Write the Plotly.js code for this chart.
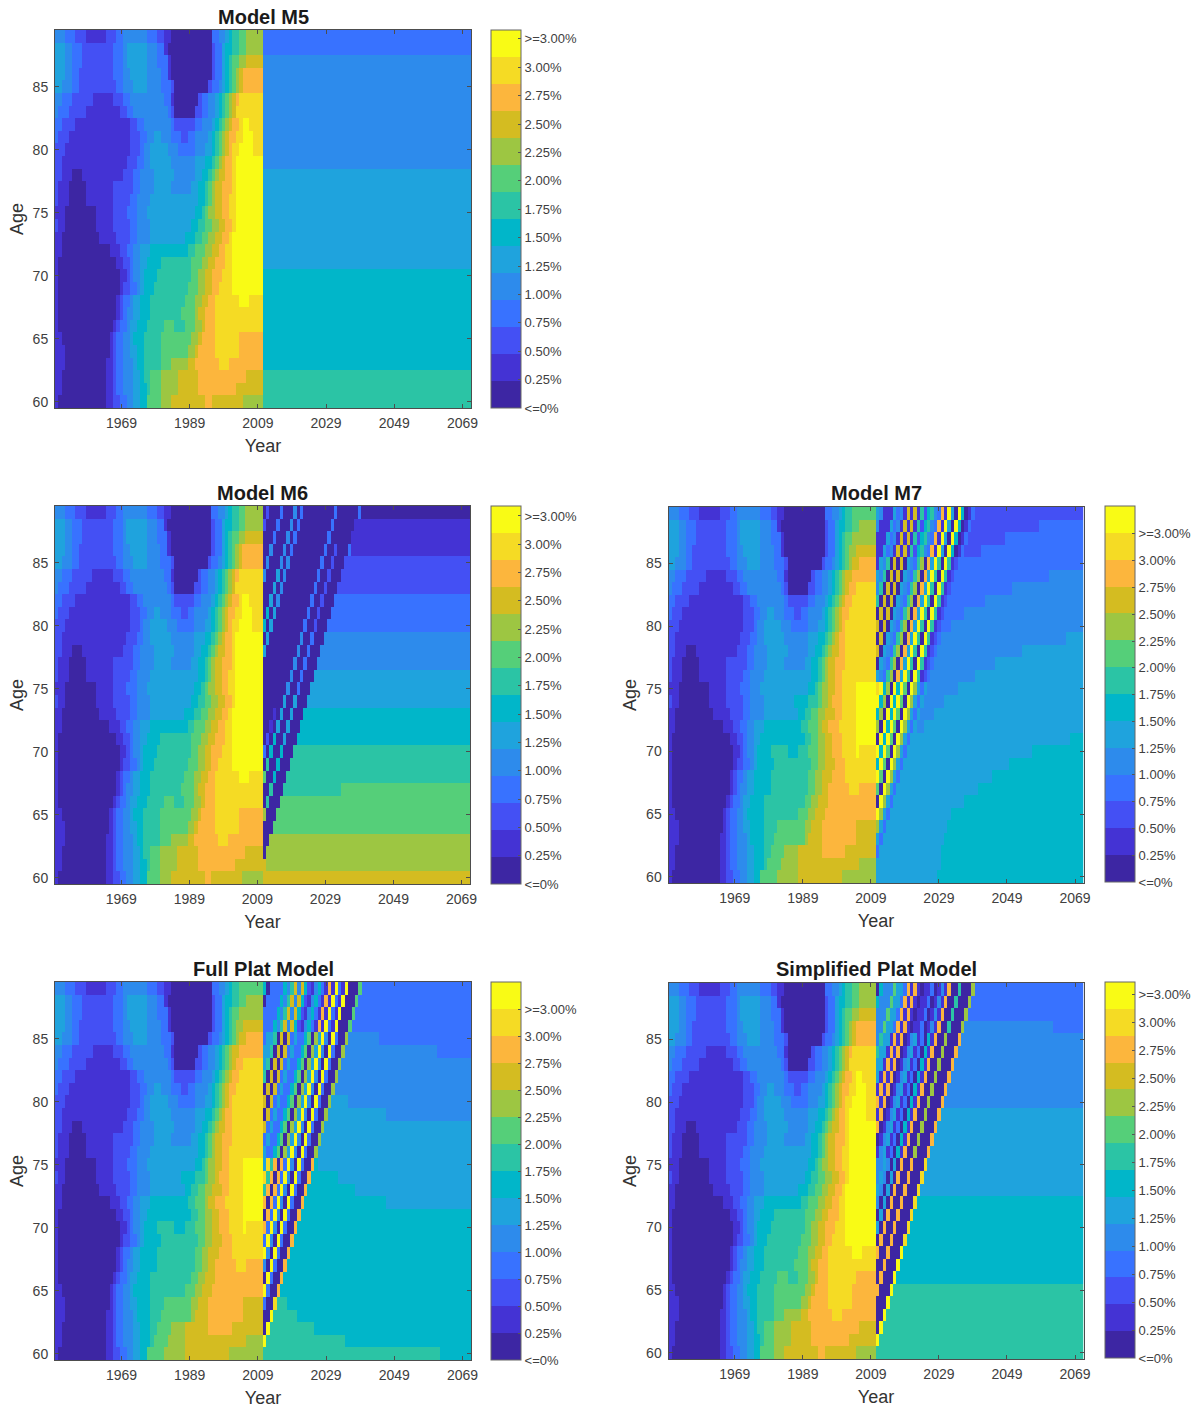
<!DOCTYPE html>
<html><head><meta charset="utf-8">
<script src="https://cdn.plot.ly/plotly-3.0.1.min.js"></script>
<style>html,body{margin:0;padding:0;background:#fff}</style></head>
<body><div id="chart" style="width:1198px;height:1408px"></div>
<script>
const palette = ["#3d26a3","#4433d4","#4450f4","#3872ff","#2d8bec","#1fa3dd","#01b6c9","#2bc4a5","#55cf79","#9dc642","#d4bc21","#fcb63d","#f5db24","#f9fb15"];
const levelLabels = ["<=0%","0.25%","0.50%","0.75%","1.00%","1.25%","1.50%","1.75%","2.00%","2.25%","2.50%","2.75%","3.00%",">=3.00%"];
const xTicks = [1969,1989,2009,2029,2049,2069];
const yTicks = [60,65,70,75,80,85];

// Observed history, ages 89 down to 60. Tokens are level:endColumn (column 0 = 1950).
const histBase = [
"4:3 3:6 2:9 1:15 2:18 3:20 4:27 3:30 2:32 1:34 0:46 3:48 4:50 5:51 6:52 7:54 8:56 9:61",
"5:3 4:5 3:8 2:17 3:20 4:21 5:27 4:30 3:32 1:33 0:46 2:47 3:49 5:50 6:52 7:54 8:56 9:61",
"5:3 4:5 3:8 2:17 3:20 4:21 5:27 4:30 3:33 1:34 0:46 2:47 3:49 5:50 6:51 7:52 8:54 9:56 10:61",
"5:3 4:5 3:7 2:17 3:20 4:22 5:27 4:31 3:33 1:34 0:46 2:47 3:49 5:50 6:51 7:52 8:53 9:54 10:55 11:61",
"5:2 4:5 3:7 2:18 3:20 4:23 5:27 4:31 3:34 2:35 0:45 2:46 3:48 4:49 5:50 6:51 7:52 8:53 9:54 10:55 11:61",
"4:2 3:5 2:11 1:17 2:20 3:22 4:32 3:34 1:35 0:42 2:43 3:45 4:47 5:48 6:49 7:50 8:51 9:52 10:53 11:54 12:61",
"4:1 3:4 2:9 1:19 2:21 3:23 4:33 3:34 2:35 0:41 2:43 3:45 4:47 5:48 6:49 7:50 8:51 9:52 10:53 12:61",
"3:2 2:6 1:22 2:24 3:26 4:34 3:35 2:41 3:43 4:46 5:47 6:48 7:49 8:50 9:51 10:52 11:54 12:55 13:57 12:61",
"3:1 2:4 1:22 2:25 3:27 4:29 5:31 4:34 3:37 2:39 3:41 4:45 5:46 6:47 7:48 8:49 9:50 10:51 11:53 12:55 13:58 12:61",
"2:3 1:22 2:25 3:26 4:28 5:33 4:36 3:41 4:44 5:46 6:47 7:48 8:49 9:50 10:51 11:52 12:54 13:58 12:61",
"2:2 1:21 2:24 3:26 4:28 5:34 4:41 5:44 6:46 7:47 8:48 9:49 10:50 11:52 12:53 13:61",
"2:2 1:5 0:8 1:20 2:23 3:25 4:29 5:35 4:41 5:43 6:45 7:46 8:47 9:48 10:50 11:52 12:53 13:61",
"2:1 1:4 0:9 1:17 2:23 3:25 4:29 5:34 4:40 5:42 6:44 7:45 8:46 9:47 10:49 11:52 12:53 13:61",
"2:1 1:4 0:9 1:17 2:22 3:24 4:28 5:42 6:44 7:45 8:46 9:47 10:49 11:51 12:53 13:61",
"1:3 0:12 1:17 2:21 3:24 4:27 5:41 6:43 7:44 8:45 9:47 10:49 11:51 12:53 13:61",
"2:1 1:3 0:12 1:17 2:22 3:24 4:28 5:40 6:42 7:44 8:46 9:48 10:50 11:52 12:53 13:61",
"1:2 0:13 1:18 2:22 3:24 4:28 5:38 6:41 7:43 8:45 9:47 10:49 11:51 12:52 13:61",
"1:2 0:16 1:19 2:21 3:23 4:25 5:28 6:39 7:41 8:44 9:46 10:48 11:50 12:52 13:61",
"1:1 0:18 1:20 2:22 3:23 4:25 5:27 6:31 7:40 8:43 9:45 10:47 11:50 12:52 13:61",
"1:1 0:19 1:21 2:22 3:23 4:25 5:26 6:30 7:40 8:42 9:44 10:46 11:49 12:52 13:61",
"1:1 0:19 1:20 2:22 3:24 4:25 5:26 6:29 7:39 8:42 9:44 10:46 11:48 12:52 13:61",
"1:1 0:18 1:19 2:20 3:22 4:23 5:25 6:28 7:38 8:41 9:43 10:45 11:47 12:54 13:57 12:61",
"1:1 0:18 1:19 2:20 3:21 4:23 5:25 6:28 7:37 8:41 9:42 10:44 11:47 12:61",
"1:1 0:17 1:18 2:19 3:21 4:22 5:24 6:27 7:32 8:35 7:38 8:41 9:43 10:44 11:47 12:61",
"1:2 0:16 1:17 2:18 3:20 4:22 5:23 6:26 7:31 8:40 9:42 10:43 11:47 12:54 11:61",
"1:3 0:16 1:17 2:18 3:20 4:22 5:24 6:26 7:31 8:39 9:41 10:42 11:47 12:54 11:61",
"1:3 0:15 1:17 2:18 3:20 4:23 5:24 6:26 7:31 8:34 9:39 10:41 11:48 12:51 11:61",
"1:2 0:15 1:17 2:18 3:20 4:23 5:25 6:26 7:28 8:31 9:36 10:42 11:56 10:61",
"1:2 0:15 1:17 2:18 3:20 4:23 5:25 6:27 7:28 8:31 9:36 10:42 11:53 10:61",
"1:1 0:15 1:17 2:19 3:21 4:23 5:25 6:27 8:31 9:34 10:44 11:46 10:55 9:61"];

// Right-hand ends of the history rows that differ in M7 and the Full Plat model. "start|level:end ..."
const histTailM7 = [
"50|5:51 6:52 7:54 8:61","50|6:52 7:54 8:56 9:61","50|6:51 7:52 8:54 9:61","50|6:51 7:52 8:53 9:55 10:61",
"50|6:51 7:52 8:53 9:54 10:56 11:61","47|5:48 6:49 7:50 8:51 9:52 10:54 11:61","47|5:48 6:49 7:50 8:51 9:52 10:53 11:55 12:61",
"47|6:48 7:49 8:50 9:51 10:52 11:54 12:61","53|12:61","52|12:61","52|12:61","53|12:61","53|12:61","53|12:61",
"53|12:55 13:61","37|6:41 7:44 8:45 9:47 10:48 11:51 12:55 13:61","38|6:40 7:42 8:44 9:46 10:49 11:51 12:55 13:61",
"28|6:39 7:41 8:44 9:45 10:47 11:50 12:55 13:61","27|6:40 7:42 8:44 9:46 10:48 11:51 12:55 13:61",
"31|7:35 6:38 7:41 8:44 9:46 10:48 11:51 12:55 13:56 12:61","29|6:31 7:42 8:44 9:46 10:49 11:52 12:61",
"28|6:30 7:41 8:43 9:45 10:48 11:52 12:61","28|6:30 7:41 8:43 9:45 10:47 11:53 12:56 11:61","27|6:28 7:40 8:42 9:44 10:47 11:61",
"26|6:28 7:38 8:41 9:43 10:46 11:61","26|6:28 7:32 8:40 9:42 10:45 11:55 10:61","26|6:28 7:31 8:40 9:41 10:45 11:55 10:61",
"26|6:28 7:30 8:34 9:38 10:45 11:52 10:61","26|6:28 7:29 8:33 9:38 10:56 9:61","25|6:27 8:32 9:38 10:51 9:61"];
const histTailSimp = ["","","","","","","","","","","58|12:61","","","","","","","","","","","","","55|11:61","","","","","",""];

// Projected background per age. [number of rows, tokens], ages 89 down to 60. Columns run 61..121.
const bgM5 = [[2,"3:122"],[9,"4:122"],[8,"5:122"],[8,"6:122"],[3,"7:122"]];
const bgM6 = [[1,"0:122"],[3,"1:122"],[3,"2:122"],[3,"3:122"],[3,"4:122"],[3,"5:122"],[3,"6:122"],[3,"7:122"],[1,"7:84 8:122"],[3,"8:122"],[3,"9:122"],[1,"10:122"]];
const bgM7 = [[1,"2:122"],[1,"2:109 3:122"],[1,"2:99 3:122"],[1,"2:92 3:122"],[1,"3:122"],[1,"3:112 4:122"],[1,"3:101 4:122"],[1,"3:93 4:122"],[1,"3:87 4:122"],[1,"3:83 4:122"],[1,"3:79 4:117 5:122"],[1,"3:77 4:104 5:122"],[1,"3:75 4:96 5:122"],[1,"3:73 4:90 5:122"],[1,"3:71 4:85 5:122"],[1,"3:70 4:81 5:122"],[1,"4:78 5:122"],[1,"4:75 5:122"],[1,"4:72 5:118 6:122"],[1,"4:69 5:107 6:122"],[1,"4:67 5:100 6:122"],[1,"5:95 6:122"],[1,"5:91 6:122"],[1,"5:87 6:122"],[1,"5:83 6:122"],[1,"5:82 6:122"],[1,"5:81 6:122"],[2,"5:80 6:122"],[1,"5:79 6:122"]];
const bgFull = [[4,"3:122"],[1,"4:95 3:122"],[1,"4:112 3:122"],[3,"4:122"],[1,"5:86 4:122"],[1,"5:97 4:122"],[3,"5:122"],[1,"6:77 5:122"],[1,"6:83 5:122"],[1,"6:88 5:122"],[1,"6:97 5:122"],[7,"6:122"],[1,"7:68 6:122"],[1,"7:71 6:122"],[1,"7:76 6:122"],[1,"7:85 6:122"],[1,"7:113 6:122"]];
const bgSimp = [[3,"3:122"],[1,"4:113 3:122"],[6,"4:122"],[7,"5:122"],[7,"6:122"],[6,"7:122"]];

// Level of each birth cohort 1922..1950 at high (86+), middle (76-85) and low (<=75) ages.
const m7High = [5,4,1,1,1,5,3,4,1,10,1,10,1,7,2,6,7,4,3,11,1,13,5,0,13,6,0,1,3];
const m7Mid  = [5,4,1,1,1,5,4,7,0,10,0,10,0,5,4,3,7,9,0,11,5,13,7,0,13,7,1,2,3];
const m7Low  = [5,4,1,1,1,5,4,7,0,10,0,10,0,5,12,13,6,9,0,13,6,13,8,0,13,9,5,3,5];
const fullHigh = [6,0,3,3,3,3,6,4,7,10,4,10,6,2,1,4,6,3,1,11,1,13,3,1,13,0,0,0,8];
const fullMid  = [6,0,3,3,3,5,5,7,0,10,0,10,3,5,3,3,6,8,0,9,5,13,4,0,13,3,0,0,9];
const fullLow  = [6,0,3,3,3,5,5,7,0,10,0,10,3,5,5,12,7,11,0,11,3,13,4,0,13,3,0,0,11];
const simpHigh = [0,6,4,4,4,8,5,5,3,11,1,11,1,0,1,1,3,0,1,4,1,11,0,0,7,0,0,0,9];
const simpMid  = [0,6,4,4,4,7,5,5,1,11,1,11,0,1,4,5,1,3,0,6,1,11,0,0,9,0,0,0,11];
const simpLow  = [0,6,4,4,4,7,5,5,1,11,1,11,0,1,4,4,5,4,0,5,0,11,0,0,11,0,0,0,12];
// Cohort-1950 cells at young ages: [highest age, lowest age, level]
const fullEdge = [[64,64,12],[63,60,13]];
const simpEdge = [[68,60,13]];
// M6: everything in the cohort wedge is level 0 apart from these stripes: [cohort, age from, age to, level]
const m6Stripes = [[1923,89,88,2],[1927,89,87,3],[1927,86,84,4],[1931,89,85,4],[1931,84,82,5],[1931,81,80,6],
[1933,89,86,3],[1933,85,82,4],[1933,81,78,5],[1941,73,72,1],[1941,71,71,2],[1941,70,70,3],
[1943,89,80,3],[1943,79,75,4],[1943,74,72,5],[1943,71,70,6],[1943,69,69,7],[1943,68,68,8],
[1946,86,80,2],[1946,79,75,3],[1946,74,71,5],[1946,70,68,6],[1946,67,66,7],[1946,65,65,9],
[1950,89,89,3],[1950,86,86,3],[1950,61,61,10]];

// Panel boxes in page pixels and the colour-bar label span
const panels = [
 {title:"Model M5", box:[55,471,30,408], bar:[491,30,408], topTick:13.67, tail:null, bg:bgM5, wedge:null},
 {title:"Model M6", box:[55,470,506,884], bar:[491,506,884], topTick:13.63, tail:null, bg:bgM6, wedge:"m6"},
 {title:"Model M7", box:[668.5,1083.5,507,883], bar:[1105,506,882], topTick:12.96, tail:histTailM7, bg:bgM7, wedge:[m7High,m7Mid,m7Low,[]]},
 {title:"Full Plat Model", box:[55,471,982,1360], bar:[491,982,1360], topTick:13.0, tail:histTailM7, bg:bgFull, wedge:[fullHigh,fullMid,fullLow,fullEdge]},
 {title:"Simplified Plat Model", box:[668.5,1083.5,983,1359], bar:[1105,982,1358], topTick:13.54, tail:histTailSimp, bg:bgSimp, wedge:[simpHigh,simpMid,simpLow,simpEdge]}
];

const W=1198,H=1408,NCOL=122;
const years=Array.from({length:NCOL},(_,i)=>1950+i);
const ages=Array.from({length:30},(_,i)=>60+i);
const fnt="'Liberation Sans',Arial,sans-serif";
const axisInk="#4d4d4d";

function paint(row,tokens,start){let c=start;tokens.trim().split(/\s+/).forEach(t=>{const [l,e]=t.split(":").map(Number);for(;c<e;c++)row[c]=l;});}
function buildZ(p){
  const bgRows=[];p.bg.forEach(([n,t])=>{for(let i=0;i<n;i++)bgRows.push(t);});
  const rows=[];
  for(let r=0;r<30;r++){
    const age=89-r,row=new Array(NCOL).fill(0);
    paint(row,histBase[r],0);
    if(p.tail&&p.tail[r]){const [s,t]=p.tail[r].split("|");paint(row,t,Number(s));}
    paint(row,bgRows[r],61);
    for(let c=61;c<NCOL;c++){
      const cohort=years[c]-age;
      if(cohort>1950||!p.wedge)continue;
      if(p.wedge==="m6"){
        if(cohort<1950)row[c]=0;
        m6Stripes.forEach(s=>{if(s[0]===cohort&&age<=s[1]&&age>=s[2])row[c]=s[3];});
      }else{
        const k=cohort-1922,[hi,mi,lo,edge]=p.wedge;
        row[c]=age>=86?hi[k]:age>=76?mi[k]:lo[k];
        if(cohort===1950)edge.forEach(e=>{if(age<=e[0]&&age>=e[1])row[c]=e[2];});
      }
    }
    rows.unshift(row.map(v=>v+0.5));
  }
  return rows;
}
const cs=[];palette.forEach((c,i)=>{cs.push([i/14,c]);cs.push([(i+1)/14,c]);});
const traces=[],layout={width:W,height:H,margin:{l:0,r:0,t:0,b:0,pad:0,autoexpand:false},paper_bgcolor:"#fff",plot_bgcolor:"#fff",showlegend:false,annotations:[],font:{family:fnt}};
panels.forEach((p,i)=>{
  const n=i===0?"":String(i+1),[x0,x1,y0,y1]=p.box,[bx,bt,bb]=p.bar;
  traces.push({type:"heatmap",x:years,y:ages,z:buildZ(p),xaxis:"x"+n,yaxis:"y"+n,zmin:0,zmax:14,colorscale:cs,zsmooth:false,hoverinfo:"skip",
    colorbar:{x:bx/W,xanchor:"left",xpad:0,ypad:0,y:1-bt/H,yanchor:"top",lenmode:"pixels",len:bb-bt,thicknessmode:"pixels",thickness:30,
      outlinewidth:1,outlinecolor:"#666",borderwidth:0,tickmode:"array",
      tickvals:levelLabels.map((_,j)=>j*p.topTick/13),ticktext:levelLabels,ticks:"inside",ticklen:3,tickwidth:1,tickcolor:"#555",
      tickfont:{family:fnt,size:13,color:"#404040"}}});
  layout["xaxis"+n]={domain:[x0/W,x1/W],anchor:"y"+n,range:[1949.5,2071.5],tickmode:"array",tickvals:xTicks,ticks:"inside",ticklen:4,tickcolor:axisInk,
    showline:true,linecolor:axisInk,linewidth:1,mirror:"allticks",showgrid:false,zeroline:false,ticklabelstandoff:2,tickfont:{family:fnt,size:14,color:"#404040"},
    title:{text:"Year",font:{family:fnt,size:18,color:"#333"},standoff:9}};
  layout["yaxis"+n]={domain:[1-y1/H,1-y0/H],anchor:"x"+n,range:[59.5,89.5],tickmode:"array",tickvals:yTicks,ticks:"inside",ticklen:4,tickcolor:axisInk,
    showline:true,linecolor:axisInk,linewidth:1,mirror:"allticks",showgrid:false,zeroline:false,ticklabelstandoff:3,tickfont:{family:fnt,size:14,color:"#404040"},
    title:{text:"Age",font:{family:fnt,size:18,color:"#333"},standoff:4}};
  layout.annotations.push({xref:"paper",yref:"paper",x:((x0+x1)/2)/W,y:1-((i===2||i===4)?y0-14:y0-13)/H,xanchor:"center",yanchor:"middle",showarrow:false,text:"<b>"+p.title+"</b>",font:{family:fnt,size:20,color:"#1a1a1a"}});
});
Plotly.newPlot("chart",traces,layout,{displayModeBar:false,staticPlot:true});
</script></body></html>
